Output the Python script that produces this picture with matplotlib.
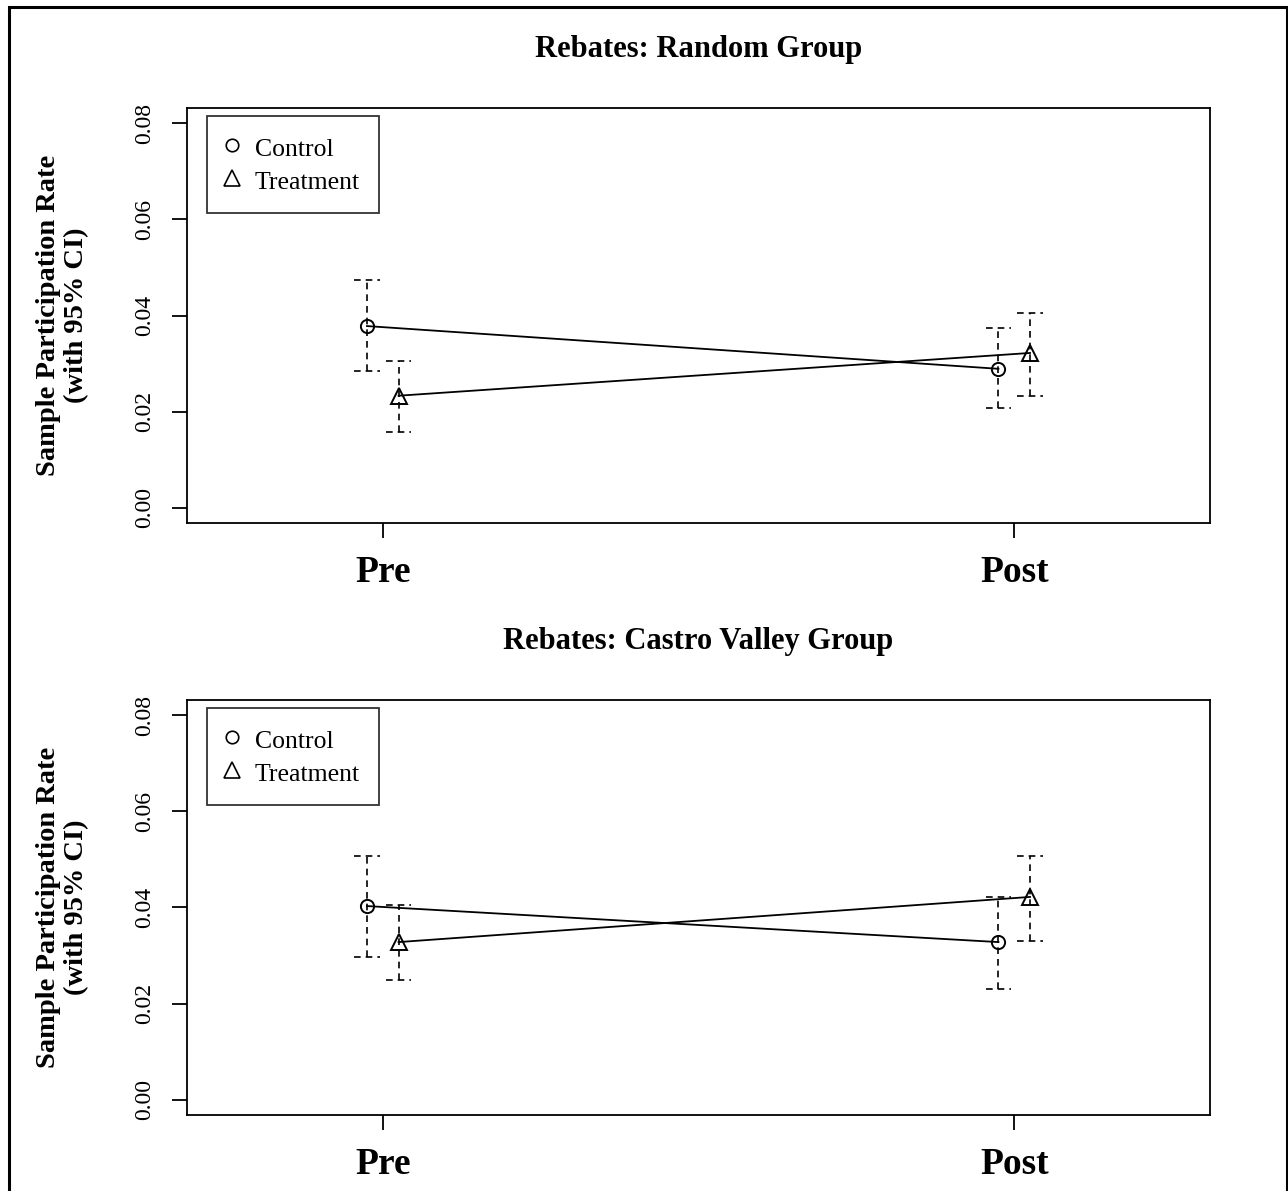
import numpy as np
import matplotlib.pyplot as plt
from matplotlib.lines import Line2D
from matplotlib.patches import Rectangle

plt.rcParams['font.family'] = ['Liberation Serif', 'DejaVu Serif']

# Data: participation rates with 95% CI
periods = ['Pre', 'Post']
titles = ['Rebates: Random Group', 'Rebates: Castro Valley Group']

random_control = [0.0378, 0.0289]
random_control_lo = [0.0285, 0.0208]
random_control_hi = [0.0474, 0.0374]
random_treat = [0.0233, 0.0322]
random_treat_lo = [0.0158, 0.0233]
random_treat_hi = [0.0306, 0.0405]

cv_control = [0.0403, 0.0328]
cv_control_lo = [0.0297, 0.0231]
cv_control_hi = [0.0507, 0.0422]
cv_treat = [0.0328, 0.0422]
cv_treat_lo = [0.0249, 0.0330]
cv_treat_hi = [0.0405, 0.0507]

panels = [
    (random_control, random_control_lo, random_control_hi,
     random_treat, random_treat_lo, random_treat_hi),
    (cv_control, cv_control_lo, cv_control_hi,
     cv_treat, cv_treat_lo, cv_treat_hi),
]

W, H = 1288, 1191
fig = plt.figure(figsize=(W / 100, H / 100), dpi=100)

# outer frame (bottom edge falls outside the picture)
fig.patches.append(Rectangle((9 / W, -0.01), (1287 - 9) / W, 1.01 - 7 / H,
                             transform=fig.transFigure, fill=False,
                             edgecolor='black', linewidth=2.2))

axes_boxes = [(187, 108, 1210, 523), (187, 700, 1210, 1115)]
x = np.array([1.0, 2.0])
off = 0.025
cap = 0.02
dash = (0, (4, 3))

for (l, t, r, b), title, data in zip(axes_boxes, titles, panels):
    ax = fig.add_axes([l / W, 1 - b / H, (r - l) / W, (b - t) / H])
    c, clo, chi, tr, tlo, thi = data
    xc = x - off
    xt = x + off

    ax.plot(xc, c, color='black', lw=1.3, zorder=2)
    ax.plot(xt, tr, color='black', lw=1.3, zorder=2)
    for xs, lo, hi in ((xc, clo, chi), (xt, tlo, thi)):
        for xi, a, bb in zip(xs, lo, hi):
            ax.plot([xi, xi], [a, bb], color='black', lw=1.2, linestyle=dash)
            ax.plot([xi - cap, xi + cap], [bb, bb], color='black', lw=1.2, linestyle=dash)
            ax.plot([xi - cap, xi + cap], [a, a], color='black', lw=1.2, linestyle=dash)
    ax.plot(xc, c, 'o', ms=9.5, mfc='none', mec='black', mew=1.4, zorder=3)
    ax.plot(xt, tr, '^', ms=11, mfc='none', mec='black', mew=1.4, zorder=3)

    ax.set_xlim(0.69, 2.31)
    ax.set_ylim(-0.0032, 0.0832)
    ax.set_xticks(x)
    ax.set_xticklabels(periods, fontsize=27, fontweight='bold')
    ax.set_yticks([0.00, 0.02, 0.04, 0.06, 0.08])
    ax.set_yticklabels(['0.00', '0.02', '0.04', '0.06', '0.08'])
    ax.tick_params(axis='both', length=11, width=1.3, color='black')
    ax.tick_params(axis='y', pad=12, labelsize=17, labelrotation=90)
    ax.tick_params(axis='x', pad=12)
    for lab in ax.get_yticklabels():
        lab.set_va('center')
    for s in ax.spines.values():
        s.set_linewidth(1.3)

    ax.set_ylabel('Sample Participation Rate\n(with 95% CI)', fontsize=20.5,
                  fontweight='bold', linespacing=1.15)
    ax.yaxis.set_label_coords(-0.096, 0.5)
    ax.set_title(title, fontsize=22, fontweight='bold', pad=37)

    handles = [Line2D([], [], marker='o', ls='none', mfc='none', mec='black', ms=9, mew=1.2),
               Line2D([], [], marker='^', ls='none', mfc='none', mec='black', ms=11, mew=1.2)]
    leg = ax.legend(handles, ['Control', 'Treatment'], loc='upper left', fontsize=18.5,
                    bbox_to_anchor=(20 / (r - l), 1 - 8 / (b - t)),
                    borderaxespad=0, frameon=True, fancybox=False, edgecolor='black',
                    borderpad=0.72, handlelength=0.47, handleheight=1.2,
                    handletextpad=0.68, labelspacing=0.24)
    leg.get_frame().set_linewidth(1.3)

fig.savefig('out.png', dpi=100)
